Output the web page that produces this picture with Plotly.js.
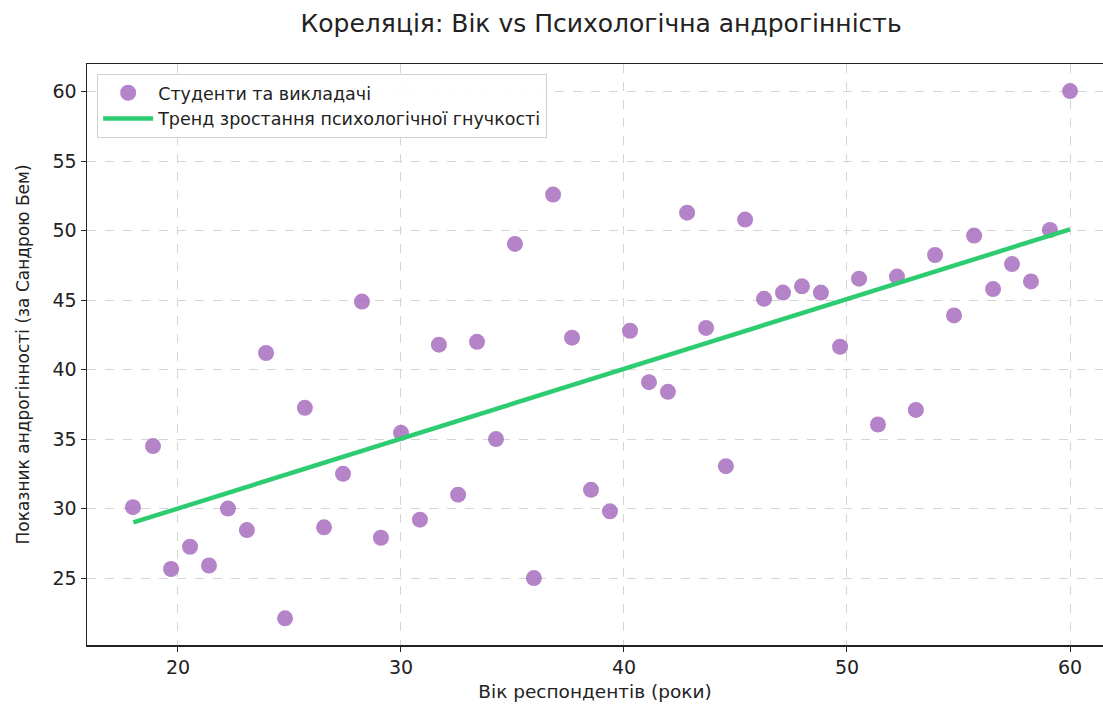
<!DOCTYPE html>
<html>
<head>
<meta charset="utf-8">
<script src="https://cdn.plot.ly/plotly-3.0.1.min.js"></script>
<style>html,body{margin:0;padding:0;background:#fff;}#chart{width:1103px;height:704px;}</style>
</head>
<body>
<div id="chart"></div>
<script>
const ages = [17.98, 18.88, 19.69, 20.54, 21.39, 22.24, 23.09, 23.95, 24.80, 25.69,
  26.55, 27.40, 28.25, 29.10, 30.00, 30.85, 31.70, 32.56, 33.41, 34.26,
  35.11, 35.96, 36.82, 37.67, 38.52, 39.37, 40.27, 41.12, 41.97, 42.83,
  43.68, 44.57, 45.43, 46.28, 47.13, 47.98, 48.83, 49.69, 50.54, 51.39,
  52.24, 53.09, 53.95, 54.80, 55.70, 56.55, 57.40, 58.25, 59.10, 60.00];
const scores = [30.1, 34.5, 25.65, 27.25, 25.9, 30.0, 28.45, 41.2, 22.1, 37.25,
  28.65, 32.5, 44.9, 27.9, 35.45, 29.2, 41.8, 31.0, 42.0, 35.0,
  49.05, 25.0, 52.6, 42.3, 31.35, 29.8, 42.8, 39.1, 38.4, 51.3,
  43.0, 33.05, 50.8, 45.1, 45.55, 46.0, 45.55, 41.65, 46.55, 36.05,
  46.7, 37.1, 48.25, 43.9, 49.65, 45.8, 47.6, 46.35, 50.05, 60.05];
const trendX = [18, 60];
const trendY = [29.0, 50.1];

const font = "'DejaVu Sans', sans-serif";
const data = [
  {x: ages, y: scores, mode: 'markers', type: 'scatter', name: 'Студенти та викладачі',
   marker: {color: '#9B59B6', opacity: 0.75, size: 16, line: {width: 0}}},
  {x: trendX, y: trendY, mode: 'lines', type: 'scatter', name: 'Тренд зростання психологічної гнучкості',
   line: {color: '#2ECC71', width: 4.5}}
];
const layout = {
  width: 1103, height: 704,
  margin: {l: 87, r: 0, t: 64, b: 59},
  paper_bgcolor: '#fff', plot_bgcolor: '#fff',
  font: {family: font, color: '#222'},
  title: {text: 'Кореляція: Вік vs Психологічна андрогінність', x: 0.545, xanchor: 'center', y: 0.967, yanchor: 'middle',
          font: {size: 25, family: font, color: '#222'}},
  xaxis: {range: [15.92, 61.48], tickvals: [20, 30, 40, 50, 60], ticks: 'outside', ticklen: 5, tickcolor: '#222',
          showline: true, linecolor: '#222', linewidth: 1.5, mirror: true,
          showgrid: true, gridcolor: '#d5d5d5', griddash: 'dash', gridwidth: 1, zeroline: false,
          tickfont: {size: 19, family: font, color: '#222'},
          title: {text: 'Вік респондентів (роки)', font: {size: 18.5, family: font, color: '#222'}, standoff: 8}},
  yaxis: {range: [20.18, 62.0], tickvals: [25, 30, 35, 40, 45, 50, 55, 60], ticks: 'outside', ticklen: 5, tickcolor: '#222',
          showline: true, linecolor: '#222', linewidth: 1.5, mirror: true,
          showgrid: true, gridcolor: '#d5d5d5', griddash: 'dash', gridwidth: 1, zeroline: false,
          tickfont: {size: 19, family: font, color: '#222'},
          title: {text: 'Показник андрогінності (за Сандрою Бем)', font: {size: 17, family: font, color: '#222'}, standoff: 18}},
  showlegend: true,
  legend: {x: 0.01, y: 0.983, xanchor: 'left', yanchor: 'top', bgcolor: 'rgba(255,255,255,0.9)',
           bordercolor: '#d0d0d0', borderwidth: 1, font: {size: 17.5, family: font, color: '#222'},
           itemwidth: 50, tracegroupgap: 0}
};
Plotly.newPlot('chart', data, layout, {displayModeBar: false, staticPlot: true});
</script>
</body>
</html>
